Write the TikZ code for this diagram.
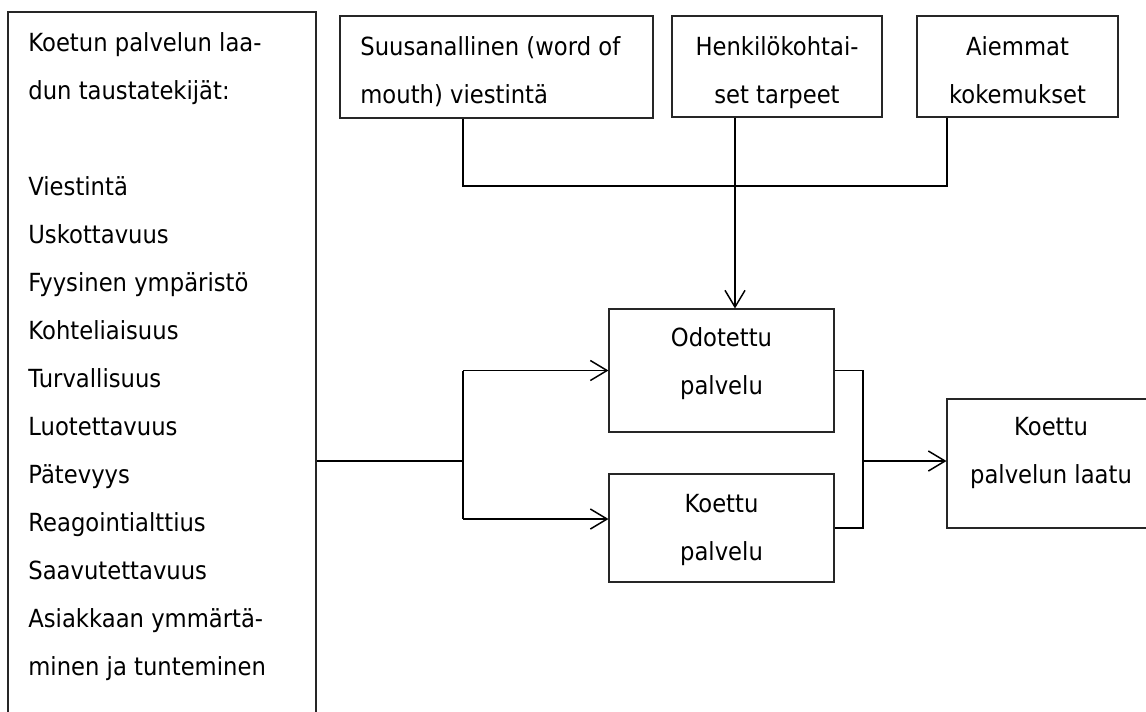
\documentclass[tikz,border=0pt]{standalone}
\usepackage{fontspec}
\setmainfont{DejaVu Sans}[FakeStretch=0.91]
\usetikzlibrary{arrows.meta,fit}

\tikzset{laatuBox/.style={draw=black!85,line width=0.6pt,inner sep=0pt},
 laatuText/.style={font=\fontsize{14.2}{27.3}\selectfont,inner sep=0pt},
 laatuLine/.style={line width=0.85pt},
 laatuArrow/.style={laatuLine,-{Straight Barb[length=9.5pt,width=11.4pt]}}}

\begin{document}
\begin{tikzpicture}[x=0.02cm,y=-0.02cm]
\path[use as bounding box] (0,0) rectangle (1146,711);
\clip (0,0) rectangle (1146,711);
% left column, runs off the bottom edge
\node[laatuBox,fit={(8,12) (316,740)}] (tekijat) {};
\node[laatuText,align=left,anchor=base west] (tekijatTxt) at (28,675) {Koetun palvelun laa-\\dun taustatekijät:\\[27.3pt]Viestintä\\Uskottavuus\\Fyysinen ympäristö\\Kohteliaisuus\\Turvallisuus\\Luotettavuus\\Pätevyys\\Reagointialttius\\Saavutettavuus\\Asiakkaan ymmärtä-\\minen ja tunteminen};
% top row
\node[laatuBox,fit={(340,16) (653,118)}] (suu) {};
\node[laatuText,align=left,anchor=base west] (suuTxt) at (360,103.5) {Suusanallinen (word of\\mouth) viestintä};
\node[laatuBox,fit={(672,16) (882,117)}] (henk) {};
\node[laatuText,align=center,anchor=base] (henkTxt) at (777,103.5) {Henkilökohtai-\\set tarpeet};
\node[laatuBox,fit={(917,16) (1118,117)}] (aiem) {};
\node[laatuText,align=center,anchor=base] (aiemTxt) at (1017.5,103.5) {Aiemmat\\kokemukset};
% middle and right
\node[laatuBox,fit={(609,309) (834,432)}] (odo) {};
\node[laatuText,align=center,anchor=base] (odoTxt) at (721.5,394) {Odotettu\\palvelu};
\node[laatuBox,fit={(609,474) (834,582)}] (koe) {};
\node[laatuText,align=center,anchor=base] (koeTxt) at (721.5,560) {Koettu\\palvelu};
\node[laatuBox,fit={(947,399) (1155,528)}] (laatu) {};
\node[laatuText,align=center,anchor=base] (laatuTxt) at (1051,483) {Koettu\\palvelun laatu};

\coordinate (ylaV) at (463,186);
\coordinate (ylaO) at (947,186);
\coordinate (jako) at (463,461);
\coordinate (alaJako) at (463,519);
\coordinate (kooste) at (863,461);

\draw[laatuLine] (suu.south -| ylaV)--(ylaV)--(ylaO)--(aiem.south -| ylaO);
\draw[laatuArrow] (henk.south -| 735,0)--(odo.north -| 735,0);
\draw[laatuLine] (tekijat.east |- jako)--(jako);
\draw[laatuLine] (jako |- odo.west)--(alaJako);
\draw[laatuArrow] (jako |- odo.west)--(odo.west);
\draw[laatuArrow] (alaJako)--(alaJako -| koe.west);
\draw[laatuLine] (odo.east) -| (kooste |- koe.east)--(koe.east);
\draw[laatuArrow] (kooste)--(kooste -| laatu.west);
\end{tikzpicture}
\end{document}
